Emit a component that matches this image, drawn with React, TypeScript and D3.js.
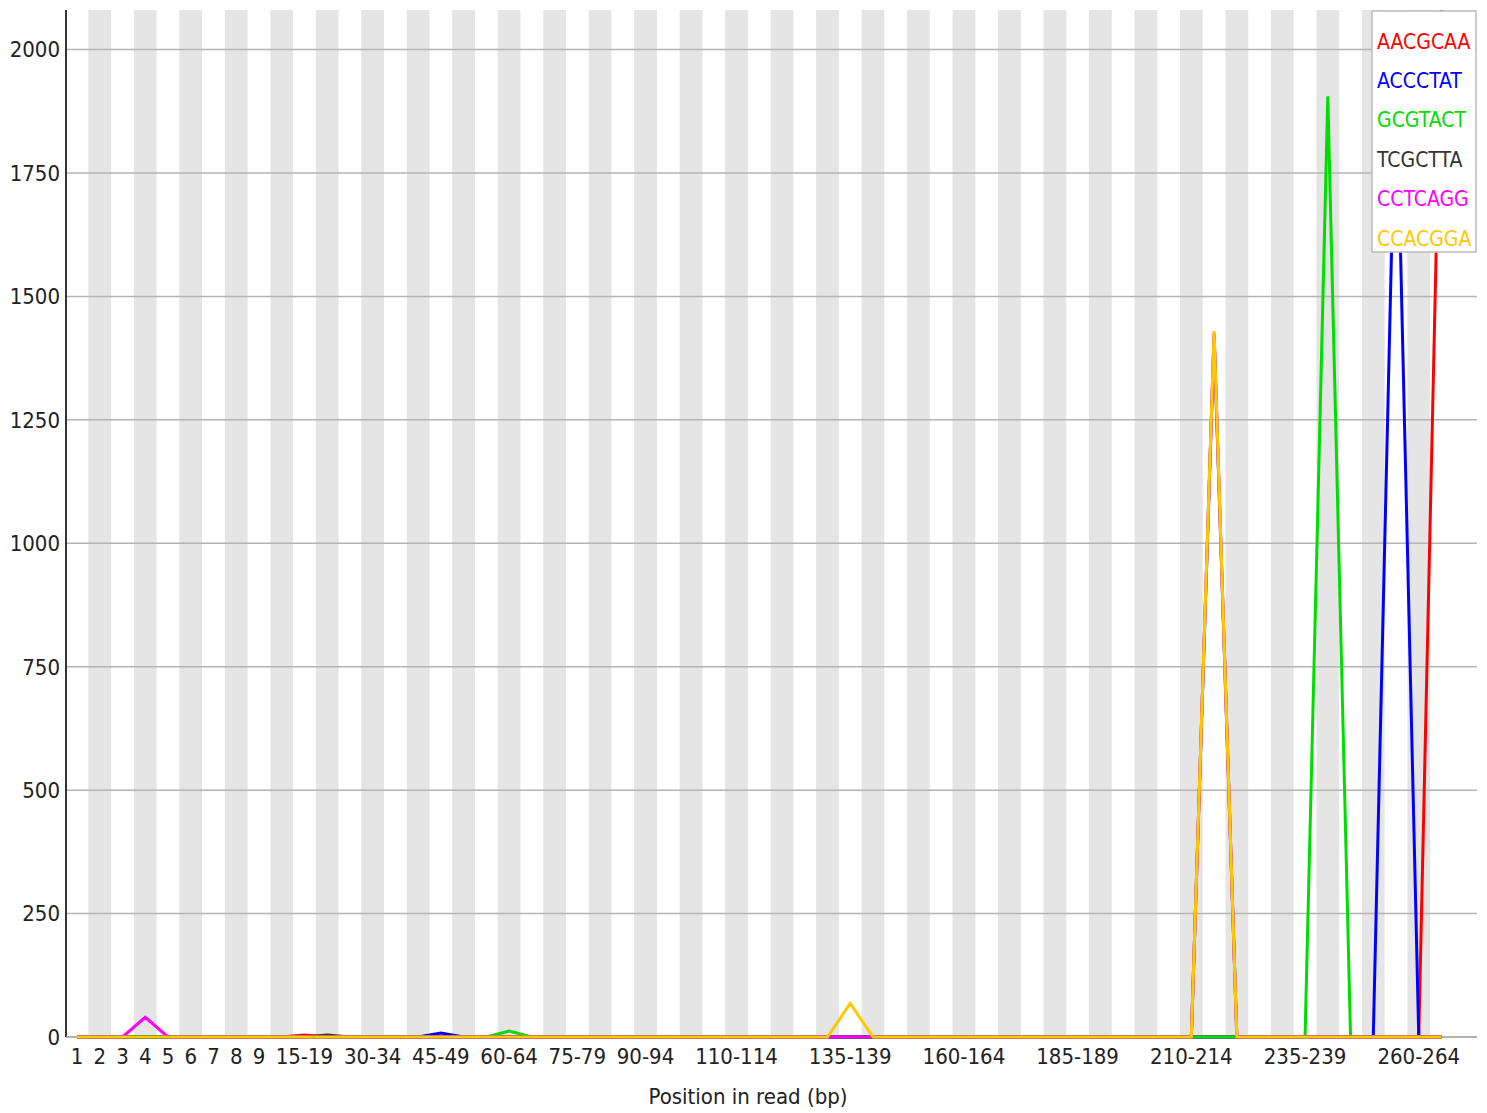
import React from "react";
import * as d3 from "d3";

const categories: string[] = [
  "1", "2", "3", "4", "5", "6", "7", "8", "9",
  "10-14", "15-19", "20-24", "25-29", "30-34", "35-39", "40-44", "45-49", "50-54", "55-59",
  "60-64", "65-69", "70-74", "75-79", "80-84", "85-89", "90-94", "95-99", "100-104", "105-109",
  "110-114", "115-119", "120-124", "125-129", "130-134", "135-139", "140-144", "145-149", "150-154",
  "155-159", "160-164", "165-169", "170-174", "175-179", "180-184", "185-189", "190-194", "195-199",
  "200-204", "205-209", "210-214", "215-219", "220-224", "225-229", "230-234", "235-239", "240-244",
  "245-249", "250-254", "255-259", "260-264", "265-269",
];

const shownTickLabels: string[] = [
  "1", "2", "3", "4", "5", "6", "7", "8", "9", "15-19", "30-34", "45-49", "60-64", "75-79",
  "90-94", "110-114", "135-139", "160-164", "185-189", "210-214", "235-239", "260-264",
];

const yTicks: number[] = [0, 250, 500, 750, 1000, 1250, 1500, 1750, 2000];
const yMax = 2080;

// values per category (61 categories)
const AACGCAA: number[] = [
  0, 0, 0, 0, 0, 0, 0, 0, 0, 0,
  4, 0, 0, 0, 0, 0, 0, 0, 0, 0,
  0, 0, 0, 0, 0, 0, 0, 0, 0, 0,
  0, 0, 0, 0, 0, 0, 0, 0, 0, 0,
  0, 0, 0, 0, 0, 0, 0, 0, 0, 0,
  0, 0, 0, 0, 0, 0, 0, 0, 0, 0,
  2080,
];
const ACCCTAT: number[] = [
  0, 0, 0, 0, 0, 0, 0, 0, 0, 0,
  0, 0, 0, 0, 0, 0, 8, 0, 0, 0,
  0, 0, 0, 0, 0, 0, 0, 0, 0, 0,
  0, 0, 0, 0, 0, 0, 0, 0, 0, 0,
  0, 0, 0, 0, 0, 0, 0, 0, 0, 0,
  0, 0, 0, 0, 0, 0, 0, 0, 1985, 0,
  0,
];
const GCGTACT: number[] = [
  0, 0, 0, 0, 0, 0, 0, 0, 0, 0,
  0, 0, 0, 0, 0, 0, 0, 0, 0, 12,
  0, 0, 0, 0, 0, 0, 0, 0, 0, 0,
  0, 0, 0, 0, 0, 0, 0, 0, 0, 0,
  0, 0, 0, 0, 0, 0, 0, 0, 0, 0,
  0, 0, 0, 0, 0, 1905, 0, 0, 0, 0,
  0,
];
const TCGCTTA: number[] = [
  0, 0, 0, 0, 0, 0, 0, 0, 0, 0,
  0, 4, 0, 0, 0, 0, 0, 0, 0, 0,
  0, 0, 0, 0, 0, 0, 0, 0, 0, 0,
  0, 0, 0, 0, 0, 0, 0, 0, 0, 0,
  0, 0, 0, 0, 0, 0, 0, 0, 0, 0,
  1420, 0, 0, 0, 0, 0, 0, 0, 0, 0,
  0,
];
const CCTCAGG: number[] = [
  0, 0, 0, 40, 0, 0, 0, 0, 0, 0,
  0, 0, 0, 0, 0, 0, 0, 0, 0, 0,
  0, 0, 0, 0, 0, 0, 0, 0, 0, 0,
  0, 0, 0, 0, 0, 0, 0, 0, 0, 0,
  0, 0, 0, 0, 0, 0, 0, 0, 0, 0,
  1425, 0, 0, 0, 0, 0, 0, 0, 0, 0,
  0,
];
const CCACGGA: number[] = [
  0, 0, 0, 0, 0, 0, 0, 0, 0, 0,
  0, 0, 0, 0, 0, 0, 0, 0, 0, 0,
  0, 0, 0, 0, 0, 0, 0, 0, 0, 0,
  0, 0, 0, 0, 68, 0, 0, 0, 0, 0,
  0, 0, 0, 0, 0, 0, 0, 0, 0, 0,
  1430, 0, 0, 0, 0, 0, 0, 0, 0, 0,
  0,
];

const seriesNames: string[] = ["AACGCAA", "ACCCTAT", "GCGTACT", "TCGCTTA", "CCTCAGG", "CCACGGA"];
const seriesValues: number[][] = [AACGCAA, ACCCTAT, GCGTACT, TCGCTTA, CCTCAGG, CCACGGA];
const seriesColors: string[] = ["#ff0000", "#0000ff", "#00dd00", "#333333", "#ff00ff", "#ffc800"];

const xTitle = "Position in read (bp)";

export default function App() {
  const W = 1487;
  const H = 1113;
  const plotLeft = 66;
  const plotRight = 1477;
  const plotTop = 10;
  const plotBottom = 1037;
  const font = "'DejaVu Sans Condensed', 'DejaVu Sans', sans-serif";

  const x = d3.scaleLinear().domain([0, categories.length - 1]).range([77, 1441.5]);
  const step = x(1) - x(0);
  const y = d3.scaleLinear().domain([0, yMax]).range([plotBottom, plotTop]);

  const line = d3
    .line<number>()
    .x((_, i) => x(i))
    .y((d) => y(d));

  return (
    <svg
      width={W}
      height={H}
      style={{ position: "absolute", left: 0, top: 0, background: "#fff" }}
    >
      <rect x={0} y={0} width={W} height={H} fill="#fff" />
      {/* stripes */}
      {categories.map((c, i) =>
        i % 2 === 1 ? (
          <rect
            key={"s" + c}
            x={x(i) - step / 2}
            y={plotTop}
            width={step}
            height={plotBottom - plotTop}
            fill="#e5e5e5"
          />
        ) : null
      )}
      {/* gridlines */}
      {yTicks.map((t) => (
        <line
          key={"g" + t}
          x1={plotLeft}
          x2={plotRight}
          y1={y(t)}
          y2={y(t)}
          stroke="#b4b4b4"
          strokeWidth={1.5}
        />
      ))}
      {/* y labels */}
      {yTicks.map((t) => (
        <text
          key={"yl" + t}
          x={60}
          y={y(t)}
          dy="0.36em"
          textAnchor="end"
          fontFamily={font}
          fontSize={22}
          fill="#222"
        >
          {t}
        </text>
      ))}
      {/* axes */}
      <line x1={plotLeft} x2={plotLeft} y1={plotTop} y2={plotBottom} stroke="#333" strokeWidth={2} />
      <line x1={plotLeft} x2={plotRight} y1={plotBottom} y2={plotBottom} stroke="#aaa" strokeWidth={1.5} />
      {/* series */}
      {seriesValues.map((vals, si) => (
        <path
          key={"p" + si}
          d={line(vals) || ""}
          fill="none"
          stroke={seriesColors[si]}
          strokeWidth={3}
          strokeLinejoin="miter"
        />
      ))}
      {/* x labels */}
      {categories.map((c, i) =>
        shownTickLabels.includes(c) ? (
          <text
            key={"xl" + c}
            x={x(i)}
            y={1056}
            dy="0.36em"
            textAnchor="middle"
            fontFamily={font}
            fontSize={22}
            fill="#222"
          >
            {c}
          </text>
        ) : null
      )}
      <text
        x={748}
        y={1096}
        dy="0.36em"
        textAnchor="middle"
        fontFamily={font}
        fontSize={22}
        fill="#222"
      >
        {xTitle}
      </text>
      {/* legend */}
      <rect x={1372} y={11} width={104} height={241} fill="#fff" stroke="#bbb" strokeWidth={1.5} />
      {seriesNames.map((n, i) => (
        <text
          key={"lg" + n}
          x={1377}
          y={41 + i * 39.4}
          dy="0.36em"
          fontFamily={font}
          fontSize={21}
          fill={seriesColors[i]}
        >
          {n}
        </text>
      ))}
    </svg>
  );
}
